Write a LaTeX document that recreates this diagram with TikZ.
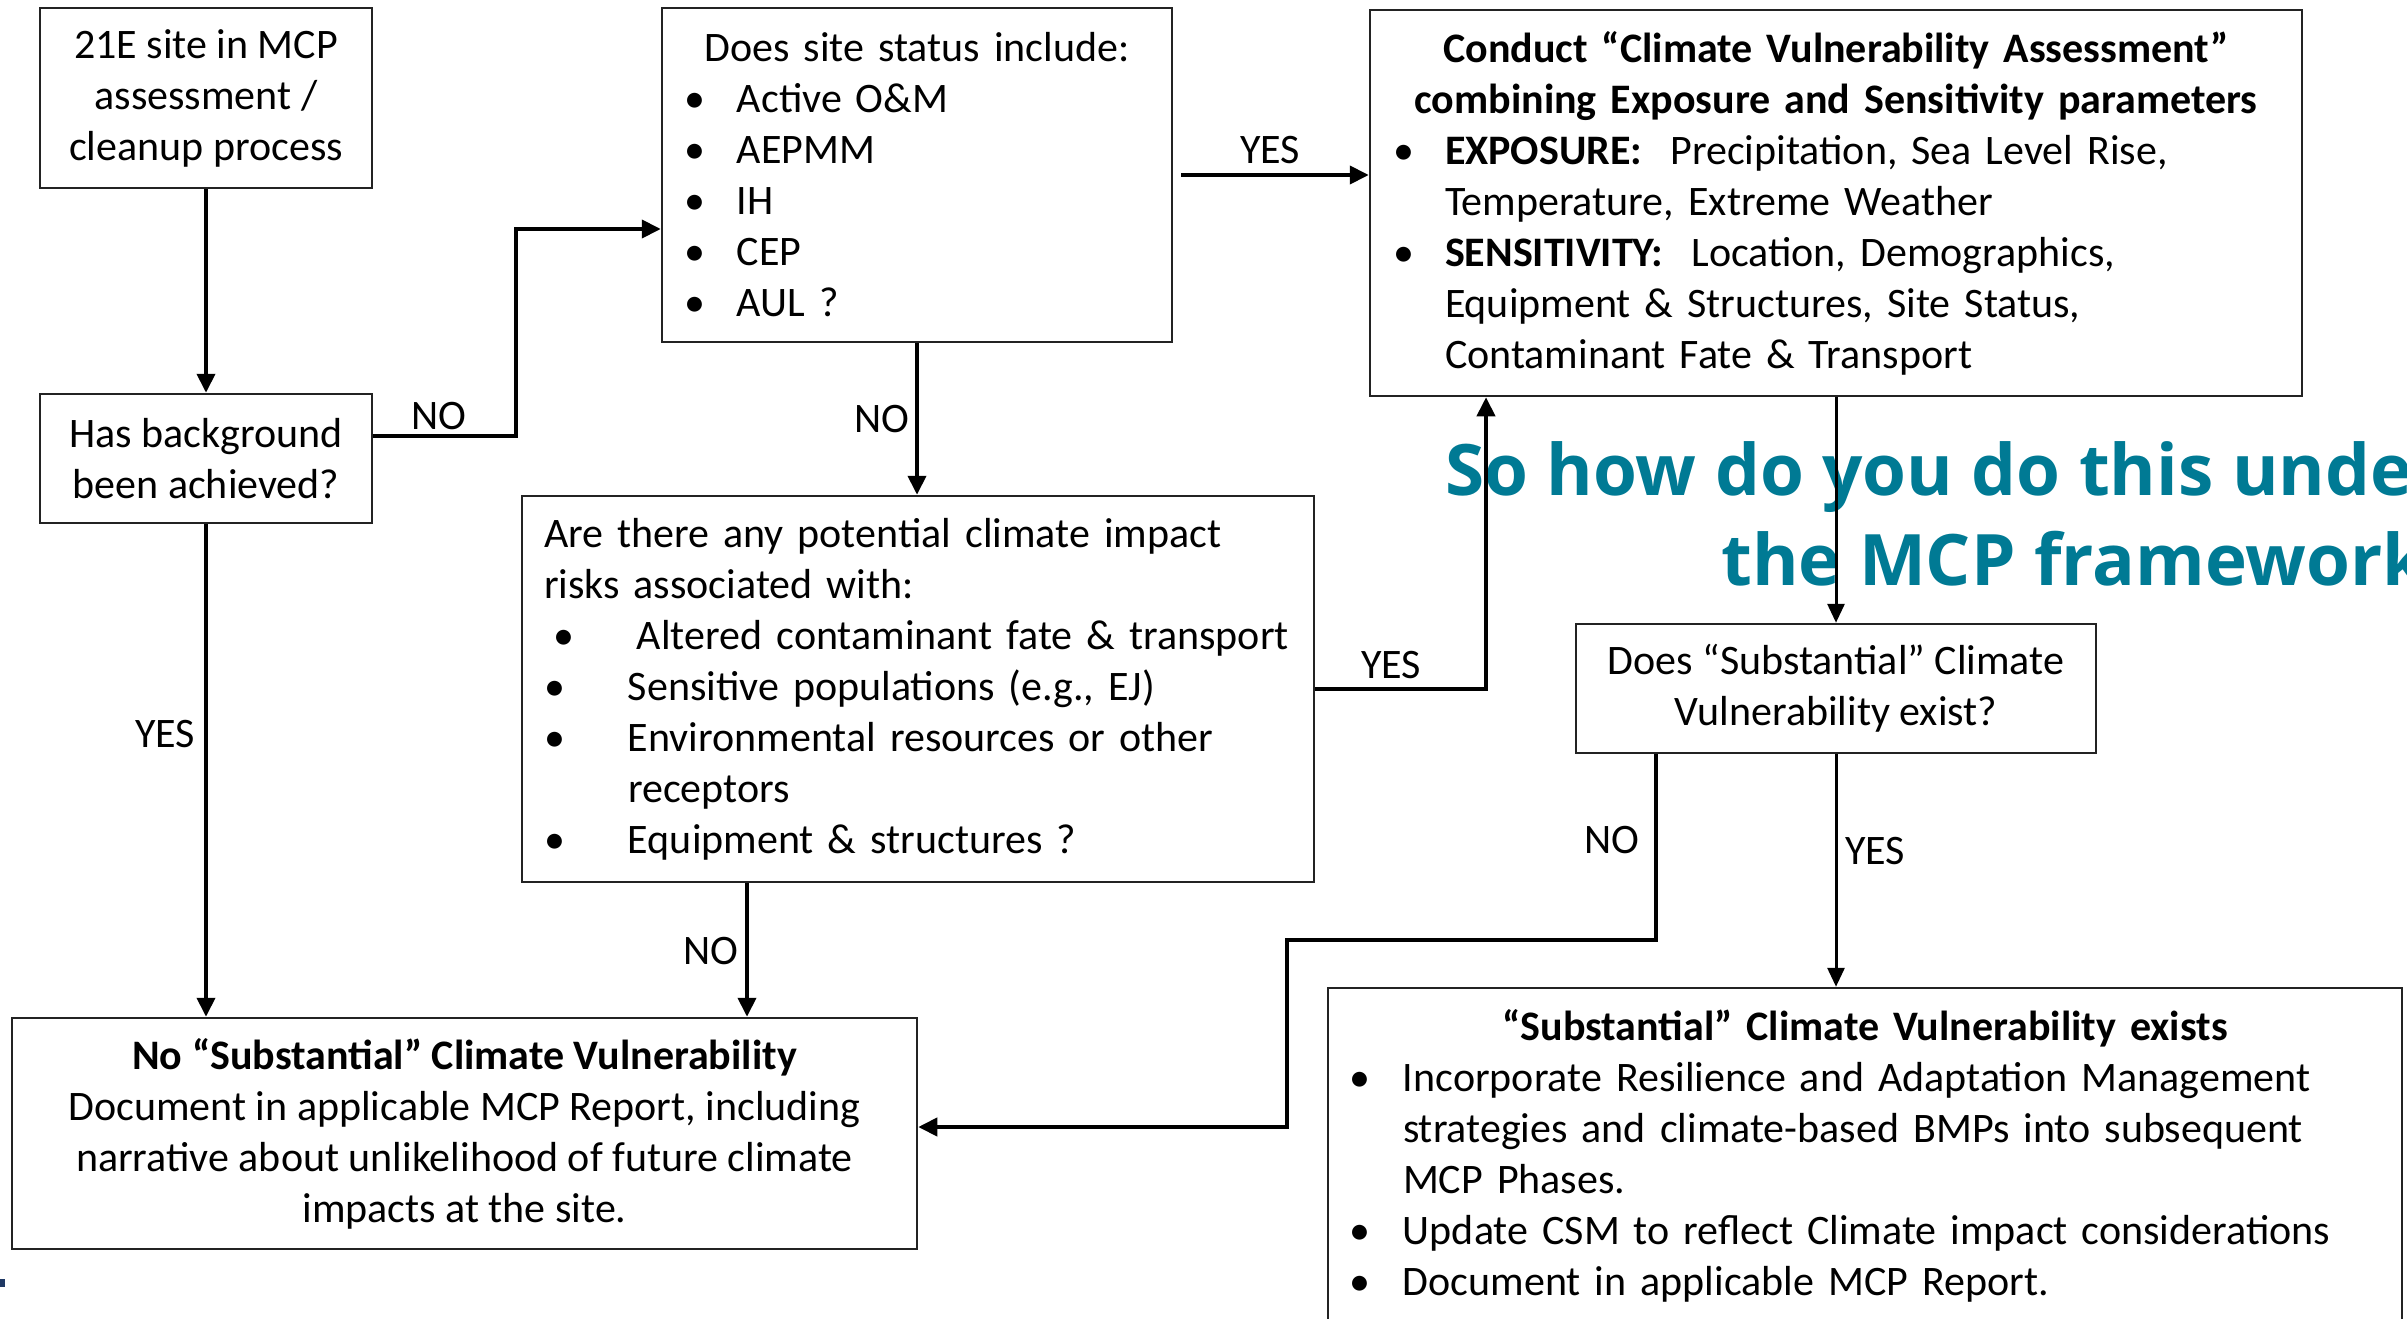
\documentclass[tikz,border=0pt]{standalone}
\usepackage{fontspec}
\setmainfont{Carlito}
\newfontfamily\titlefont{Open Sans}
\usetikzlibrary{arrows.meta}
\definecolor{teal1}{RGB}{0,122,148}
\definecolor{bord}{RGB}{35,35,35}
\definecolor{navy}{RGB}{31,56,100}
\newcommand\bul[1]{\makebox[#1][l]{•}}
\tikzset{
  txt/.style={font=\fontsize{42}{51}\selectfont},
  box/.style={draw=bord, line width=2.5pt, inner sep=0pt, txt},
  cbox/.style={box, align=center},
  lbox/.style={box, align=left},
  arr/.style={line width=4pt, -{Triangle[length=19pt,width=18pt]}},
  tarr/.style={line width=3pt, -{Triangle[length=19pt,width=17pt]}},
  lab/.style={txt, inner sep=0pt},
  title/.style={font=\titlefont\bfseries\fontsize{71}{90}\selectfont, text=teal1, inner sep=0pt}
}
\begin{document}
\begin{tikzpicture}[x=1pt,y=-1pt]
\useasboundingbox (0,0) rectangle (2407,1319);
\fill[white] (0,0) rectangle (2407,1319);
\clip (0,0) rectangle (2407,1319);
% title (behind the connectors)
\node[title, anchor=base west] (t1) at (1445,495) {So how do you do this under};
\node[title, anchor=base west] (t2) at (1721,585) {the MCP framework?};
% boxes
\node[cbox, minimum width=332pt, minimum height=180pt] (A) at (206,98)
  {21E site in MCP\\assessment /\\cleanup process};
\node[cbox, minimum width=332pt, minimum height=129pt] (B) at (206,458.5)
  {Has background\\been achieved?};
\node[lbox, text width=465pt, inner xsep=22.5pt, minimum height=334pt] (C) at (917,175)
  {\makebox[465pt][c]{Does site status include:}\\
   \bul{52.5pt}Active O\&M\\
   \bul{52.5pt}AEPMM\\
   \bul{52.5pt}IH\\
   \bul{52.5pt}CEP\\
   \bul{52.5pt}AUL ?};
\node[lbox, text width=885pt, inner xsep=23.5pt, minimum height=386pt] (D) at (1836,203)
  {\makebox[885pt][c]{\textbf{Conduct “Climate Vulnerability Assessment”}}\\
   \makebox[885pt][c]{\textbf{combining Exposure and Sensitivity parameters}}\\
   \bul{51.5pt}\textbf{EXPOSURE:}\ \ Precipitation, Sea Level Rise,\\
   \hspace*{51.5pt}Temperature, Extreme Weather\\
   \bul{51.5pt}\textbf{SENSITIVITY:}\ \ Location, Demographics,\\
   \hspace*{51.5pt}Equipment \& Structures, Site Status,\\
   \hspace*{51.5pt}Contaminant Fate \& Transport};
\node[lbox, text width=748pt, inner xsep=22pt, minimum height=386pt] (E) at (918,689)
  {Are there any potential climate impact\\
   risks associated with:\\
   \hspace*{9pt}\bul{84pt}Altered contaminant fate \& transport\\
   \bul{84pt}Sensitive populations (e.g., EJ)\\
   \bul{84pt}Environmental resources or other\\
   \hspace*{84pt}receptors\\
   \bul{84pt}Equipment \& structures ?};
\node[cbox, minimum width=520pt, minimum height=129pt] (F) at (1836,688.5)
  {Does “Substantial” Climate\\Vulnerability exist?};
\node[cbox, minimum width=905pt, minimum height=231pt] (G) at (464.5,1133.5)
  {\textbf{No “Substantial” Climate Vulnerability}\\
   Document in applicable MCP Report, including\\
   narrative about unlikelihood of future climate\\
   impacts at the site.};
\node[lbox, text width=1031pt, inner xsep=21.5pt, minimum height=335pt] (H) at (1865,1155.5)
  {\makebox[1031pt][c]{\textbf{“Substantial” Climate Vulnerability exists}}\\
   \bul{53.5pt}Incorporate Resilience and Adaptation Management\\
   \hspace*{53.5pt}strategies and climate-based BMPs into subsequent\\
   \hspace*{53.5pt}MCP Phases.\\
   \bul{53.5pt}Update CSM to reflect Climate impact considerations\\
   \bul{53.5pt}Document in applicable MCP Report.};
% bend points
\coordinate (b1) at (516,436);
\coordinate (b2) at (516,229);
\coordinate (e1) at (1486,688);
\coordinate (e2) at (747,900);
\coordinate (f1) at (1656,940);
\coordinate (f2) at (1287,940);
\coordinate (f3) at (1287,1127);
% connectors
\draw[arr] (A.south) -- (B.north);
\draw[arr] (B.east |- b1) -- (b1) -- (b2) -- (C.west |- b2);
\draw[arr, shorten <=8pt] (C.east) -- (C.east -| D.west);
\draw[arr] (C.south) -- (C.south |- E.north);
\draw[arr] (E.east) -| (e1 |- D.south);
\draw[tarr] (D.south) -- (F.north);
\draw[tarr] (F.south) -- (F.south |- H.north);
\draw[arr] (F.south -| f1) -- (f1) -- (f2) -- (f3) -- (G.east |- f3);
\draw[arr] (B.south) -- (B.south |- G.north);
\draw[arr] (E.south -| e2) -- (e2 |- G.north);
% labels
\node[lab] (l1) at (439,416) {NO};
\node[lab] (l2) at (1270,150) {YES};
\node[lab] (l3) at (882,419) {NO};
\node[lab] (l4) at (165,734) {YES};
\node[lab] (l5) at (711,951) {NO};
\node[lab] (l6) at (1391,665) {YES};
\node[lab] (l7) at (1612,840) {NO};
\node[lab] (l8) at (1875,851) {YES};
% small mark at left edge
\fill[navy] (0,1279) rectangle (5,1287);
\end{tikzpicture}
\end{document}
